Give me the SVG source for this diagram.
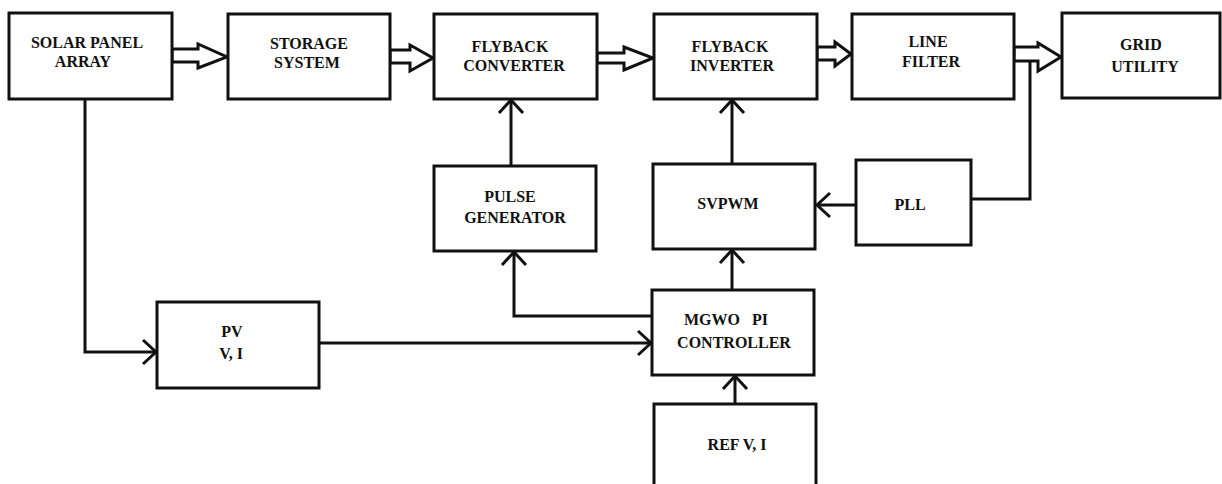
<svg xmlns="http://www.w3.org/2000/svg" width="1222" height="484" viewBox="0 0 1222 484">
<defs>
<style>
.box{fill:#fff;stroke:#111;stroke-width:3}
.blk{fill:#fff;stroke:#111;stroke-width:3;stroke-linejoin:miter}
.ln{fill:none;stroke:#111;stroke-width:3}
text{font-family:'Liberation Serif','Times New Roman',serif;font-weight:bold;font-size:16px;fill:#111;text-anchor:middle}
</style>
<marker id="ah" markerUnits="userSpaceOnUse" markerWidth="20" markerHeight="30" viewBox="-16 -15 20 30" refX="0" refY="0" orient="auto">
<path d="M-13,-12 L0,0 L-13,12" fill="none" stroke="#111" stroke-width="3"/>
</marker>
</defs>
<rect width="1222" height="484" fill="#fff"/>

<g id="connectors">
<path class="ln" d="M85,99 V352 H156" marker-end="url(#ah)"/>
<path class="ln" d="M319,343 H651" marker-end="url(#ah)"/>
<path class="ln" d="M652,316 H514 V252" marker-end="url(#ah)"/>
<path class="ln" d="M732,290 V250" marker-end="url(#ah)"/>
<path class="ln" d="M732,164 V100" marker-end="url(#ah)"/>
<path class="ln" d="M511,166 V100" marker-end="url(#ah)"/>
<path class="ln" d="M735,404 V376" marker-end="url(#ah)"/>
<path class="ln" d="M856,205 H817" marker-end="url(#ah)"/>
<path class="ln" d="M1030,60 V199 H971"/>
<polygon class="blk" points="172,49 198,49 198,44 227,57 198,68 198,62 172,62"/>
<polygon class="blk" points="390,50 410,50 410,45 433,58 410,71 410,63 390,63"/>
<polygon class="blk" points="597,53 624,53 624,47 653,58 624,70 624,63 597,63"/>
<polygon class="blk" points="817,47 835,47 835,42 851,54 835,66 835,60 817,60"/>
<polygon class="blk" points="1014,47 1038,47 1038,43 1061,57 1038,71 1038,61 1014,61"/>
</g>

<g id="solar"><rect class="box" x="9" y="13" width="163" height="86"/><text x="87" y="48">SOLAR PANEL</text><text x="83" y="67">ARRAY</text></g>
<g id="storage"><rect class="box" x="228" y="14" width="162" height="85"/><text x="309" y="49">STORAGE</text><text x="307" y="68">SYSTEM</text></g>
<g id="fconv"><rect class="box" x="434" y="14" width="163" height="85"/><text x="510" y="52">FLYBACK</text><text x="514" y="71">CONVERTER</text></g>
<g id="finv"><rect class="box" x="654" y="14" width="163" height="85"/><text x="730" y="52">FLYBACK</text><text x="732" y="71">INVERTER</text></g>
<g id="filter"><rect class="box" x="852" y="14" width="162" height="85"/><text x="928" y="47">LINE</text><text x="931" y="67">FILTER</text></g>
<g id="grid"><rect class="box" x="1062" y="13" width="158" height="85"/><text x="1141" y="50">GRID</text><text x="1145" y="72">UTILITY</text></g>
<g id="pulse"><rect class="box" x="434" y="166" width="162" height="85"/><text x="510" y="202">PULSE</text><text x="515" y="223">GENERATOR</text></g>
<g id="svpwm"><rect class="box" x="653" y="164" width="162" height="85"/><text x="728" y="209">SVPWM</text></g>
<g id="pll"><rect class="box" x="856" y="160" width="115" height="85"/><text x="910" y="210">PLL</text></g>
<g id="pv"><rect class="box" x="157" y="302" width="162" height="86"/><text x="232" y="337">PV</text><text x="231" y="359">V, I</text></g>
<g id="mgwo"><rect class="box" x="652" y="290" width="162" height="85"/><text x="726" y="325" xml:space="preserve">MGWO   PI</text><text x="734" y="348">CONTROLLER</text></g>
<g id="ref"><rect class="box" x="654" y="404" width="162" height="90"/><text x="737" y="450">REF V, I</text></g>
</svg>
